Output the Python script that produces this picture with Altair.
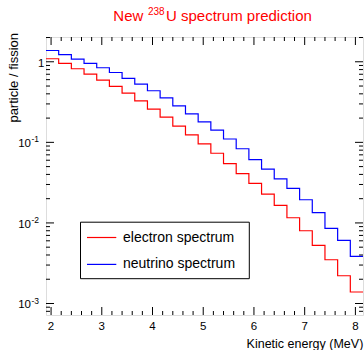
import altair as alt
import pandas as pd

# Histogram bin edges (MeV) and per-bin yields (particle / fission)
bin_edges = [1.90, 2.15, 2.40, 2.65, 2.90, 3.15, 3.40, 3.65, 3.90, 4.15, 4.40,
             4.65, 4.90, 5.15, 5.40, 5.65, 5.90, 6.15, 6.40, 6.65, 6.90, 7.15,
             7.40, 7.65, 7.90, 8.15]
electron = [1.09, 0.953, 0.819, 0.704, 0.593, 0.494, 0.409, 0.328, 0.259, 0.206,
            0.159, 0.124, 0.0955, 0.0732, 0.0543, 0.0408, 0.0309, 0.0228, 0.0165,
            0.0116, 0.0080, 0.00526, 0.00349, 0.00221, 0.00139]
neutrino = [1.38, 1.23, 1.08, 0.953, 0.843, 0.736, 0.621, 0.529, 0.437, 0.357,
            0.284, 0.226, 0.180, 0.142, 0.110, 0.0833, 0.0609, 0.0466, 0.0353,
            0.0268, 0.0194, 0.0134, 0.00855, 0.00607, 0.00384]
series_names = ["electron spectrum", "neutrino spectrum"]
series_colors = ["#ff0000", "#0000ff"]

x_major = [2, 3, 4, 5, 6, 7, 8]
x_minor = [2.2, 2.4, 2.6, 2.8, 3.2, 3.4, 3.6, 3.8, 4.2, 4.4, 4.6, 4.8, 5.2, 5.4,
           5.6, 5.8, 6.2, 6.4, 6.6, 6.8, 7.2, 7.4, 7.6, 7.8]
y_major = [1e-3, 1e-2, 1e-1, 1.0]
y_minor = [8e-4, 9e-4] + [m * 10.0 ** k for k in (-3, -2, -1) for m in range(2, 10)] + [2.0]
y_exp = [(1e-1, "-1"), (1e-2, "-2"), (1e-3, "-3")]

W, H = 317, 278
FONT = "Liberation Sans"

xscale = alt.Scale(domain=[1.9, 8.15], nice=False, zero=False)
yscale = alt.Scale(type="log", domain=[7.2e-4, 2.03], nice=False)


def X(field):
    return alt.X(f"{field}:Q", scale=xscale, axis=None)


def Y(field):
    return alt.Y(f"{field}:Q", scale=yscale, axis=None)


# step-histogram outlines: each bin value holds until the next edge
rows = []
for name, vals in zip(series_names, [electron, neutrino]):
    for i, v in enumerate(vals):
        rows.append({"e": bin_edges[i], "v": v, "s": name})
    rows.append({"e": bin_edges[-1], "v": vals[-1], "s": name})
hist = pd.DataFrame(rows)

lines = alt.Chart(hist).mark_line(interpolate="step-after", strokeWidth=1.2, clip=True).encode(
    x=X("e"), y=Y("v"),
    color=alt.Color("s:N", scale=alt.Scale(domain=series_names, range=series_colors), legend=None),
)


def xticks(vals, length, top):
    df = pd.DataFrame({"t": vals})
    if top:
        y0, y1 = 0, length
    else:
        y0, y1 = H, H - length
    return alt.Chart(df).mark_rule(color="black", strokeWidth=1).encode(
        x=X("t"), y=alt.value(y0), y2=alt.value(y1))


def yticks(vals, length, right):
    df = pd.DataFrame({"t": vals})
    if right:
        x0, x1 = W, W - length
    else:
        x0, x1 = 0, length
    return alt.Chart(df).mark_rule(color="black", strokeWidth=1).encode(
        y=Y("t"), x=alt.value(x0), x2=alt.value(x1))


ticks = [xticks(x_major, 8, False), xticks(x_minor, 4, False),
         xticks(x_major, 8, True), xticks(x_minor, 4, True),
         yticks(y_major, 8, False), yticks(y_minor, 4, False),
         yticks(y_major, 8, True), yticks(y_minor, 4, True)]

# x tick labels
xlab_df = pd.DataFrame({"t": x_major, "lab": [str(v) for v in x_major]})
xlabels = alt.Chart(xlab_df).mark_text(font=FONT, fontSize=11.5, color="black",
                                       align="center", baseline="alphabetic").encode(
    x=X("t"), y=alt.value(292.7), text="lab:N")

# y tick labels: "1" and powers of ten with raised exponents
one_label = alt.Chart(pd.DataFrame({"t": [1.0]})).mark_text(
    font=FONT, fontSize=11.5, color="black", align="right", baseline="alphabetic", dy=5.5, text="1"
).encode(y=Y("t"), x=alt.value(-1.5))
exp_df = pd.DataFrame({"t": [p[0] for p in y_exp], "ex": [p[1] for p in y_exp]})
ten_labels = alt.Chart(exp_df).mark_text(
    font=FONT, fontSize=11.5, color="black", align="right", baseline="alphabetic", dy=4.8, text="10"
).encode(y=Y("t"), x=alt.value(-15))
exp_labels = alt.Chart(exp_df).mark_text(
    font=FONT, fontSize=8.5, color="black", align="left", baseline="alphabetic", dy=0
).encode(y=Y("t"), x=alt.value(-14.5), text="ex:N")

# axis titles
xtitle = alt.Chart(pd.DataFrame({"a": [0]})).mark_text(
    font=FONT, fontSize=12.5, color="black", align="right", baseline="alphabetic",
    text="Kinetic energy (MeV)").encode(x=alt.value(317.3), y=alt.value(311.3))
ytitle = alt.Chart(pd.DataFrame({"a": [0]})).mark_text(
    font=FONT, fontSize=13, color="black", align="right", baseline="middle", angle=270,
    text="particle / fission").encode(x=alt.value(-31.7), y=alt.value(-4))

# title with superscript mass number
title_parts = [
    ("New", 15, 67.3, -15.6),
    ("238", 10, 101.9, -22.3),
    ("U spectrum prediction", 15, 120.0, -15.6),
]
title_layers = [
    alt.Chart(pd.DataFrame({"a": [0]})).mark_text(
        font=FONT, fontSize=fs, color="#ff0000", align="left", baseline="alphabetic", text=txt
    ).encode(x=alt.value(px), y=alt.value(py))
    for txt, fs, px, py in title_parts
]

# legend box
legend_box = alt.Chart(pd.DataFrame({"a": [0]})).mark_rect(
    fill="white", stroke="black", strokeWidth=1).encode(
    x=alt.value(34.5), x2=alt.value(203.3), y=alt.value(185.2), y2=alt.value(241.7))
legend_items = []
for name, color, yy in zip(series_names, series_colors, [200.5, 227.4]):
    legend_items.append(alt.Chart(pd.DataFrame({"a": [0]})).mark_rule(color=color, strokeWidth=1.2).encode(
        x=alt.value(41), x2=alt.value(70.3), y=alt.value(yy)))
    legend_items.append(alt.Chart(pd.DataFrame({"a": [0]})).mark_text(
        font=FONT, fontSize=14, color="black", align="left", baseline="middle", text=name
    ).encode(x=alt.value(77), y=alt.value(yy)))

chart = alt.layer(
    lines, *ticks, xlabels, one_label, ten_labels, exp_labels, xtitle, ytitle,
    *title_layers, legend_box, *legend_items
).properties(
    width=W, height=H,
    padding={"left": 46, "top": 37, "right": 1, "bottom": 35},
    autosize=alt.AutoSizeParams(type="none"),
).configure_view(
    stroke="black", strokeWidth=1.2
).configure(background="white")

chart.save("out.html", embed_options={"renderer": "svg", "actions": False})
